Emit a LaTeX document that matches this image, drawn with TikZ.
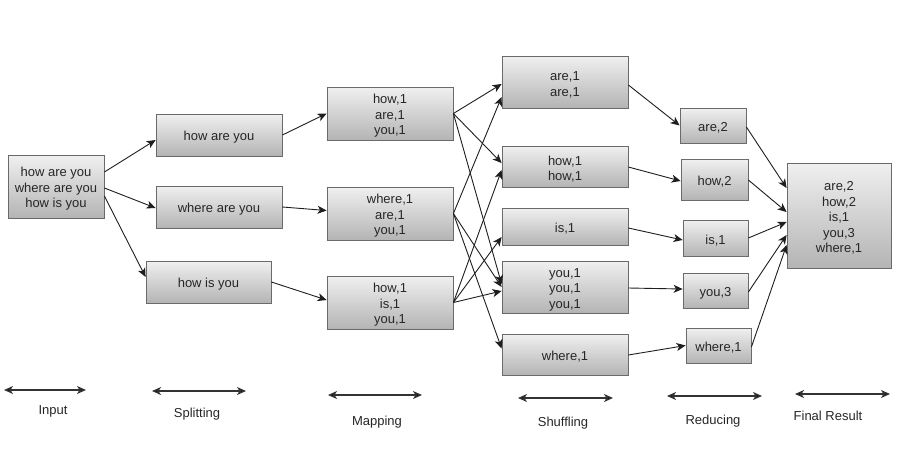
\documentclass[tikz,border=0pt]{standalone}
\usepackage{fontspec}
\setmainfont{Liberation Sans}
\usetikzlibrary{arrows.meta,calc}
\definecolor{boxborder}{HTML}{6A6A6A}
\definecolor{boxtop}{HTML}{F0F0F0}
\definecolor{boxbot}{HTML}{B4B4B4}
\definecolor{txt}{HTML}{262626}
\definecolor{edgecol}{HTML}{1E1E1E}
\newcommand{\fs}{\rule{0pt}{14.5pt}}
\begin{document}
\begin{tikzpicture}[x=1pt,y=-1pt,
  box/.style={draw=boxborder, line width=0.8pt, top color=boxtop, bottom color=boxbot,
    rectangle, inner sep=0pt, align=center, text=txt,
    font=\fontsize{13}{15.5}\selectfont},
  conn/.style={draw=edgecol, line width=0.9pt, -{Stealth[length=9pt,width=8pt,inset=2.5pt]}},
  span/.style={draw=black!80, line width=1.3pt, {Stealth[length=9pt,width=8pt,inset=2.5pt,fill=black]}-{Stealth[length=9pt,width=8pt,inset=2.5pt,fill=black]}},
  lbl/.style={text=txt, font=\fontsize{13}{15}\selectfont, inner sep=0pt}]
\useasboundingbox (0,0) rectangle (902,453);
% boxes
\node[box, minimum width=96pt, minimum height=63pt] (In) at (56,186.5) {\fs how are you\\where are you\\how is you};
\node[box, minimum width=126pt, minimum height=42pt] (Sp1) at (219,135) {\fs how are you};
\node[box, minimum width=126pt, minimum height=42pt] (Sp2) at (219,207) {\fs where are you};
\node[box, minimum width=125pt, minimum height=42pt] (Sp3) at (208.5,282) {\fs how is you};
\node[box, minimum width=126pt, minimum height=53pt] (M1) at (390,113.5) {\fs how,1\\are,1\\you,1};
\node[box, minimum width=126pt, minimum height=53pt] (M2) at (390,213.5) {\fs where,1\\are,1\\you,1};
\node[box, minimum width=126pt, minimum height=53pt] (M3) at (390,302.5) {\fs how,1\\is,1\\you,1};
\node[box, minimum width=126pt, minimum height=52pt] (S1) at (565,82) {\fs are,1\\are,1};
\node[box, minimum width=126pt, minimum height=41pt] (S2) at (565,166.5) {\fs how,1\\how,1};
\node[box, minimum width=126pt, minimum height=37pt] (S3) at (565,226.5) {\fs is,1};
\node[box, minimum width=126pt, minimum height=52pt] (S4) at (565,287) {\fs you,1\\you,1\\you,1};
\node[box, minimum width=126pt, minimum height=41pt] (S5) at (565,354.5) {\fs where,1};
\node[box, minimum width=66pt, minimum height=35pt] (R1) at (713,125.5) {\fs are,2};
\node[box, minimum width=67pt, minimum height=41pt] (R2) at (714.5,179.5) {\fs how,2};
\node[box, minimum width=65pt, minimum height=36pt] (R3) at (715.5,238) {\fs is,1};
\node[box, minimum width=65pt, minimum height=35pt] (R4) at (715.5,290.5) {\fs you,3};
\node[box, minimum width=65pt, minimum height=35pt] (R5) at (718.5,345.5) {\fs where,1};
\node[box, minimum width=104pt, minimum height=105pt] (F) at (839,215.5) {\fs are,2\\how,2\\is,1\\you,3\\where,1};
% input -> splitting
\draw[conn] ($(In.east)+(0,-14.5)$) -- ($(Sp1.west)+(0,5)$);
\draw[conn] ($(In.east)+(0,1.5)$) -- ($(Sp2.west)+(0,1)$);
\draw[conn] ($(In.east)+(0,9.5)$) -- ($(Sp3.west)+(0,-5)$);
% splitting -> mapping
\draw[conn] (Sp1.east) -- (M1.west);
\draw[conn] (Sp2.east) -- ($(M2.west)+(0,-3)$);
\draw[conn] (Sp3.east) -- ($(M3.west)+(0,-2.5)$);
% mapping -> shuffling
\draw[conn] (M1.east) -- ($(S1.west)+(0,2)$);
\draw[conn] (M1.east) -- ($(S2.west)+(0,-3.5)$);
\draw[conn] (M1.east) -- ($(S4.west)+(0,-3)$);
\draw[conn] (M2.east) -- ($(S1.west)+(0,15)$);
\draw[conn] (M2.east) -- ($(S4.west)+(0,0)$);
\draw[conn] (M2.east) -- ($(S5.west)+(0,-6)$);
\draw[conn] (M3.east) -- ($(S2.west)+(0,3.5)$);
\draw[conn] (M3.east) -- ($(S3.west)+(0,10.5)$);
\draw[conn] (M3.east) -- ($(S4.west)+(0,4)$);
% shuffling -> reducing
\draw[conn] ($(S1.east)+(0,3)$) -- (R1.west);
\draw[conn] ($(S2.east)+(0,0.5)$) -- ($(R2.west)+(0,1.5)$);
\draw[conn] ($(S3.east)+(0,1.5)$) -- ($(R3.west)+(0,2)$);
\draw[conn] ($(S4.east)+(0,1)$) -- ($(R4.west)+(0,-1.5)$);
\draw[conn] ($(S5.east)+(0,0.5)$) -- (R5.west);
% reducing -> final
\draw[conn] ($(R1.east)+(0,1.5)$) -- ($(F.west)+(0,-27.5)$);
\draw[conn] ($(R2.east)+(0,0.5)$) -- ($(F.west)+(0,-3.5)$);
\draw[conn] (R3.east) -- ($(F.west)+(0,6.5)$);
\draw[conn] ($(R4.east)+(0,1.5)$) -- ($(F.west)+(0,19.5)$);
\draw[conn] ($(R5.east)+(0,1.5)$) -- ($(F.west)+(0,29.5)$);
% stage spans
\coordinate (a1) at (4,390); \coordinate (a2) at (86,390);
\coordinate (b1) at (152,391); \coordinate (b2) at (246,391);
\coordinate (c1) at (328,395); \coordinate (c2) at (422,395);
\coordinate (d1) at (518,398); \coordinate (d2) at (613,398);
\coordinate (e1) at (667,396); \coordinate (e2) at (762,396);
\coordinate (f1) at (795,394); \coordinate (f2) at (890,394);
\draw[span] (a1) -- (a2);
\draw[span] (b1) -- (b2);
\draw[span] (c1) -- (c2);
\draw[span] (d1) -- (d2);
\draw[span] (e1) -- (e2);
\draw[span] (f1) -- (f2);
\node[lbl] (la) at (53,411) {Input};
\node[lbl] (lb) at (197,414) {Splitting};
\node[lbl] (lc) at (377,422) {Mapping};
\node[lbl] (ld) at (563,423) {Shuffling};
\node[lbl] (le) at (713,421) {Reducing};
\node[lbl] (lf) at (828,416) {Final Result};
\end{tikzpicture}
\end{document}
